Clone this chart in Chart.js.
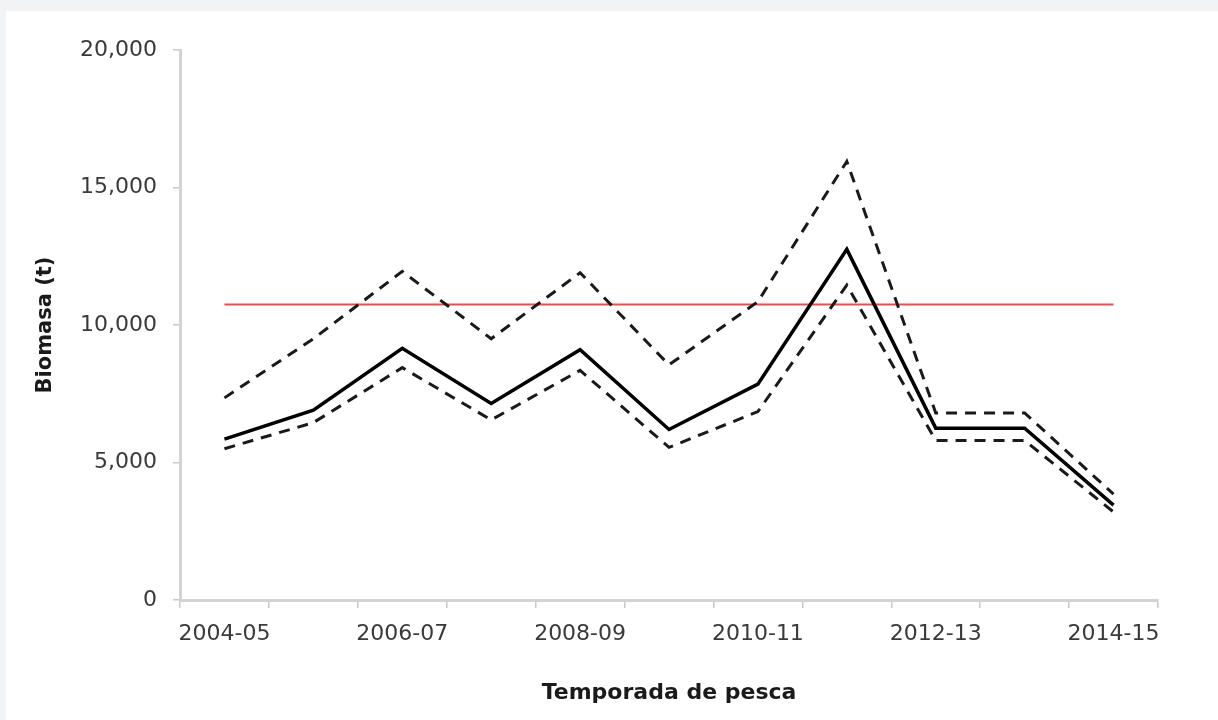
<!DOCTYPE html>
<html lang="es">
<head>
<meta charset="utf-8">
<title>Biomasa por temporada de pesca</title>
<script src="https://cdn.jsdelivr.net/npm/chart.js@4.4.1/dist/chart.umd.min.js"></script>
<style>
  html, body { margin: 0; padding: 0; background: #f1f4f6; width: 1218px; height: 720px; overflow: hidden; }
  .card { position: absolute; left: 6px; top: 11px; width: 1212px; height: 709px; background: #ffffff; }
  canvas { display: block; }
</style>
</head>
<body>
<div class="card"><canvas id="grafico" width="1212" height="709"></canvas></div>
<script>
// Temporadas de pesca (eje X)
const temporadas = ['2004-05', '2005-06', '2006-07', '2007-08', '2008-09', '2009-10',
                    '2010-11', '2011-12', '2012-13', '2013-14', '2014-15'];

// Biomasa estimada (t)
const biomasa = [5850, 6900, 9150, 7150, 9100, 6200, 7850, 12750, 6250, 6250, 3450];

// Intervalo de confianza: límite superior e inferior (t)
const limiteSuperior = [7350, 9500, 11950, 9500, 11900, 8550, 10850, 15950, 6800, 6800, 3850];
const limiteInferior = [5500, 6450, 8450, 6550, 8350, 5550, 6850, 11450, 5800, 5800, 3200];

// Nivel de referencia (t)
const referencia = [10750, 10750, 10750, 10750, 10750, 10750, 10750, 10750, 10750, 10750, 10750];

// Marcas del eje Y
const ticksY = [0, 5000, 10000, 15000, 20000];

const fuenteEjes = '"DejaVu Sans", "Liberation Sans", sans-serif';
const grisEje = '#d3d3d3';

new Chart(document.getElementById('grafico'), {
  type: 'line',
  data: {
    labels: temporadas,
    datasets: [
      {
        label: 'Límite superior',
        data: limiteSuperior,
        borderColor: '#1a1a1a',
        borderWidth: 3,
        borderDash: [11, 8],
        pointRadius: 0,
        tension: 0,
        borderJoinStyle: 'miter'
      },
      {
        label: 'Biomasa',
        data: biomasa,
        borderColor: '#000000',
        borderWidth: 3.5,
        pointRadius: 0,
        tension: 0,
        borderJoinStyle: 'miter'
      },
      {
        label: 'Límite inferior',
        data: limiteInferior,
        borderColor: '#1a1a1a',
        borderWidth: 3,
        borderDash: [11, 8],
        pointRadius: 0,
        tension: 0,
        borderJoinStyle: 'miter'
      },
      {
        label: 'Referencia',
        data: referencia,
        borderColor: '#f04a4a',
        borderWidth: 2,
        pointRadius: 0,
        tension: 0
      }
    ]
  },
  options: {
    responsive: false,
    animation: false,
    devicePixelRatio: 1,
    layout: { padding: { top: 39, right: 60, left: 0, bottom: 0 } },
    plugins: {
      legend: { display: false },
      tooltip: { enabled: false }
    },
    scales: {
      x: {
        type: 'category',
        offset: true,
        afterFit: (s) => { s.height = 120; },
        border: { display: true, color: grisEje, width: 3 },
        grid: {
          offset: true,
          drawOnChartArea: false,
          drawTicks: true,
          tickLength: 8,
          color: '#c9c9c9',
          lineWidth: 1.5
        },
        ticks: {
          autoSkip: false,
          maxRotation: 0,
          padding: 13,
          color: '#3a3a3a',
          font: { family: fuenteEjes, size: 22 },
          callback: (v, i) => (i % 2 === 0 ? temporadas[i] : '')
        },
        title: {
          display: true,
          text: 'Temporada de pesca',
          color: '#1a1a1a',
          font: { family: fuenteEjes, size: 22, weight: 'bold' },
          padding: { top: 0, bottom: 14 }
        }
      },
      y: {
        min: 0,
        max: 20000,
        afterFit: (s) => { s.width = 174; },
        afterBuildTicks: (s) => { s.ticks = ticksY.map(v => ({ value: v })); },
        border: { display: true, color: grisEje, width: 3 },
        grid: {
          drawOnChartArea: false,
          drawTicks: true,
          tickLength: 7,
          color: '#c9c9c9',
          lineWidth: 1.5
        },
        ticks: {
          padding: 16,
          color: '#3a3a3a',
          font: { family: fuenteEjes, size: 22 },
          callback: (v) => v.toLocaleString('en-US')
        },
        title: {
          display: true,
          text: 'Biomasa (t)',
          color: '#1a1a1a',
          font: { family: fuenteEjes, size: 21, weight: 'bold' },
          padding: { top: 27, bottom: 0 }
        }
      }
    }
  }
});
</script>
</body>
</html>
